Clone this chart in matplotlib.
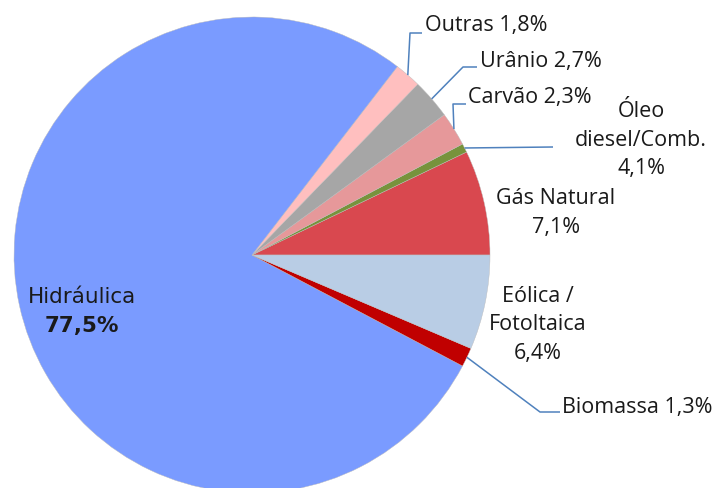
import matplotlib.pyplot as plt
import numpy as np

# fontes de energia, na ordem em que aparecem (anti-horario, a partir das 3h)
fontes = ['Gás Natural', 'Óleo diesel/Comb.', 'Carvão', 'Urânio', 'Outras',
          'Hidráulica', 'Biomassa', 'Eólica / Fotoltaica']
rotulos = ['7,1%', '4,1%', '2,3%', '2,7%', '1,8%', '77,5%', '1,3%', '6,4%']
# tamanho das fatias (a fatia verde e bem menor que o rotulo)
fatias = [7.1, 0.6, 2.3, 2.7, 1.8, 77.5, 1.3, 6.4]
cores = ['#D9484F', '#77933C', '#E6989A', '#A6A6A6', '#FFBFBF',
         '#7A9BFF', '#C00000', '#B9CDE5']

W, H = 723, 488
fig = plt.figure(figsize=(W / 100, H / 100), dpi=100)
ax = fig.add_axes([0, 0, 1, 1])

cx, cy, r = 252, H - 255, 238
wedges, _ = ax.pie(fatias, colors=cores, startangle=0, counterclock=True,
                   center=(cx, cy), radius=r,
                   wedgeprops=dict(linewidth=0.3, edgecolor='#BBBBBB'))
ax.set_xlim(0, W)
ax.set_ylim(0, H)
ax.set_aspect('equal')
ax.axis('off')

fonte = 'Open Sans'
tam = 15.5
cor_txt = '#1A1A1A'
cor_linha = '#4F81BD'


def y(v):
    # coordenada y de cima para baixo
    return H - v


def puxador(w, pontos):
    a = np.deg2rad((w.theta1 + w.theta2) / 2)
    xs = [cx + r * np.cos(a)] + [p[0] for p in pontos]
    ys = [cy + r * np.sin(a)] + [y(p[1]) for p in pontos]
    ax.plot(xs, ys, color=cor_linha, lw=1.1, solid_capstyle='butt')


def texto(x, yy, s, ha='left', **kw):
    ax.text(x, y(yy), s, ha=ha, va='center', fontsize=tam, family=fonte,
            color=cor_txt, linespacing=1.45, **kw)


# Outras
puxador(wedges[4], [(410, 33), (422, 33)])
texto(425, 25, fontes[4] + ' ' + rotulos[4])
# Uranio
puxador(wedges[3], [(463, 67), (477, 67)])
texto(480, 62, fontes[3] + ' ' + rotulos[3])
# Carvao
puxador(wedges[2], [(453, 104), (466, 104)])
texto(468, 97, fontes[2] + ' ' + rotulos[2])
# Oleo
puxador(wedges[1], [(553, 147)])
texto(641, 140, 'Óleo\ndiesel/Comb.\n' + rotulos[1], ha='center')
# Gas natural
texto(556, 213, fontes[0] + '\n' + rotulos[0], ha='center')
# Eolica
texto(538, 325, 'Eólica /\nFotoltaica\n' + rotulos[7], ha='center')
# Biomassa
puxador(wedges[6], [(540, 412), (560, 412)])
texto(562, 408, fontes[6] + ' ' + rotulos[6])
# Hidraulica
ax.text(82, y(297), fontes[5], ha='center', va='center', fontsize=15.5,
        family='DejaVu Sans', color=cor_txt)
ax.text(82, y(326), rotulos[5], ha='center', va='center', fontsize=15.5,
        family='DejaVu Sans', color=cor_txt, weight='bold')

fig.savefig('out.png', dpi=100)
